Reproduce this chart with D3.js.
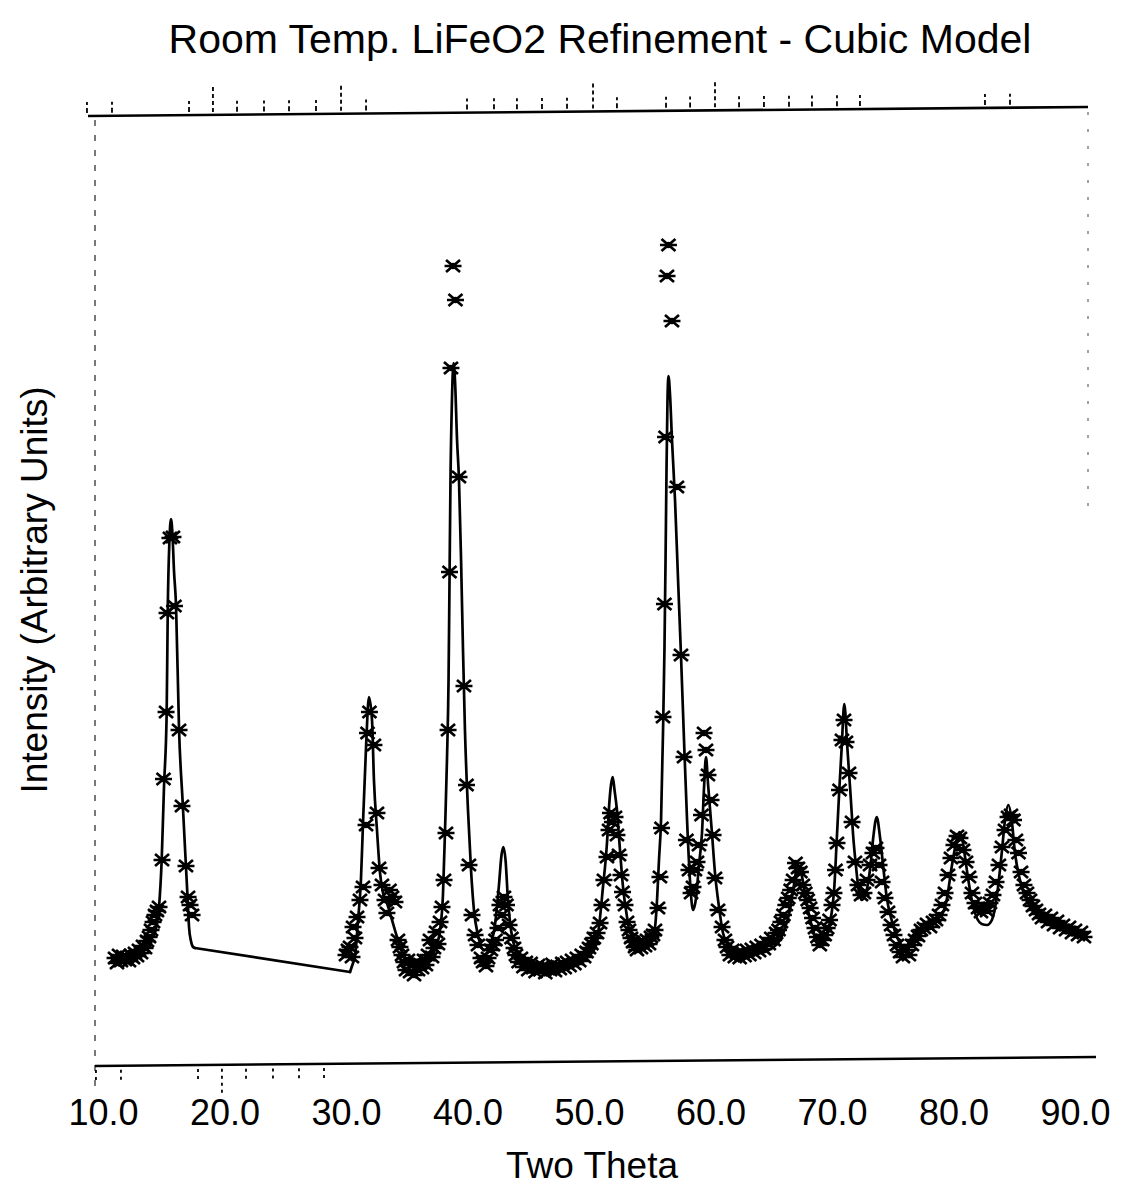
<!DOCTYPE html>
<html>
<head>
<meta charset="utf-8">
<script src="https://cdn.jsdelivr.net/npm/d3@7"></script>
<style>
  body { margin: 0; background: #fff; }
  svg { display: block; }
  text { font-family: "Liberation Sans", Arial, sans-serif; fill: #000; }
</style>
</head>
<body>
<svg id="chart" width="1141" height="1192"></svg>
<script>
// Observed diffraction pattern: [two theta (deg), counts]
const observed = [
  [10.99,990],[11.15,940],[11.32,1020],[11.48,960],[11.65,1010],[11.81,970],[11.98,1000],[12.14,960],
  [12.30,1020],[12.47,990],[12.63,1040],[12.80,1010],[12.96,1070],[13.13,1040],[13.29,1110],[13.46,1090],
  [13.62,1160],[13.79,1200],[13.95,1270],[14.12,1350],[14.28,1420],[14.44,1460],[14.61,1500],[14.86,1970],
  [14.98,2780],[15.19,3450],[15.27,4440],[15.51,5190],[15.76,5200],[15.88,4510],[16.26,3270],[16.50,2510],
  [16.83,1910],[17.00,1600],[17.16,1520],[17.33,1420],
  [30.00,1020],[30.16,1070],[30.33,1100],[30.49,1000],[30.58,1300],[30.74,1190],[30.91,1400],[31.15,1570],
  [31.40,1700],[31.65,2320],[31.77,3240],[31.93,3450],[32.30,3120],[32.55,2440],[32.72,1890],[32.96,1720],
  [33.21,1570],[33.37,1440],[33.58,1670],[33.79,1600],[34.03,1550],[34.28,1170],[34.44,1100],[34.61,1020],
  [34.77,950],[34.94,870],[35.10,970],[35.27,850],[35.43,920],[35.60,820],[35.76,950],[35.93,870],
  [36.09,930],[36.26,890],[36.42,970],[36.58,920],[36.75,1020],[36.91,1170],[37.08,1000],[37.24,1090],
  [37.41,1250],[37.57,1130],[37.74,1350],[37.90,1500],[38.07,1770],[38.23,2240],[38.40,3270],[38.52,4850],
  [38.64,6890],[38.81,7910],[39.01,7570],[39.30,5800],[39.71,3710],[39.92,2720],[40.12,1920],[40.37,1420],
  [40.62,1220],[40.86,1120],[41.11,990],[41.28,950],[41.52,910],[41.69,990],[41.93,1070],[42.10,1120],
  [42.30,1170],[42.51,1290],[42.67,1520],[42.84,1420],[43.00,1600],[43.21,1520],[43.42,1320],[43.62,1190],
  [43.83,1090],[43.99,1020],
  [44.2,950],[44.4,990],[44.6,900],[44.8,950],[45.0,870],[45.2,940],[45.4,890],[45.6,850],
  [45.8,920],[46.0,870],[46.2,910],[46.4,840],[46.6,900],[46.8,870],[47.0,930],[47.2,860],
  [47.4,910],[47.6,880],[47.8,940],[48.0,890],[48.2,950],[48.4,910],[48.6,970],[48.8,930],
  [49.0,990],[49.2,960],[49.4,1020],[49.6,1000],[49.8,1050],[50.0,1090],[50.2,1130],[50.4,1190],
  [50.66,1240],[50.91,1340],[51.07,1520],[51.23,1770],[51.48,2000],[51.65,2270],[51.77,2440],[51.93,2350],
  [52.14,2400],[52.30,2220],[52.47,2020],[52.63,1820],[52.76,1650],[52.96,1520],[53.13,1350],[53.29,1270],
  [53.46,1190],[53.62,1150],[53.79,1100],[53.95,1070],[54.12,1130],[54.28,1090],[54.44,1160],[54.61,1110],
  [54.77,1170],[54.94,1130],[55.10,1200],[55.27,1220],[55.43,1270],[55.68,1490],[55.84,1800],[55.97,2290],
  [56.09,3400],[56.21,4530],[56.30,6200],[56.42,7810],[56.54,8120],[56.83,7360],[57.24,5700],[57.57,4020],
  [57.82,3000],[58.02,2170],[58.23,1870],[58.40,1640],[58.56,1700],[58.72,1870],[58.89,1950],[59.05,2120],
  [59.26,2420],[59.47,3240],[59.63,3070],[59.79,2820],[60.04,2570],[60.21,2220],[60.37,1790],[60.62,1470],
  [60.95,1300],[61.19,1170],[61.36,1100],
  [61.6,1020],[61.8,1070],[62.0,1000],[62.2,1040],[62.4,990],[62.6,1050],[62.8,1010],[63.0,1070],
  [63.2,1020],[63.4,1080],[63.6,1040],[63.8,1100],[64.0,1060],[64.2,1120],[64.4,1080],[64.6,1150],
  [64.8,1130],[65.0,1190],[65.2,1170],[65.4,1240],[65.6,1270],[65.8,1350],[66.0,1420],[66.2,1520],
  [66.4,1590],[66.6,1670],[66.8,1770],[67.0,1940],[67.2,1890],[67.4,1850],[67.6,1720],[67.8,1640],
  [68.0,1570],[68.2,1490],[68.4,1390],[68.6,1290],[68.8,1200],[69.0,1120],[69.2,1170],[69.4,1220],
  [69.6,1290],[69.8,1370],[70.0,1520],
  [70.16,1640],[70.29,1870],[70.41,2140],[70.62,2670],[70.82,3170],[70.99,3370],[71.15,3150],[71.40,2840],
  [71.65,2350],[71.89,1950],[72.14,1720],[72.39,1620],[72.63,1640],[72.88,1770],[73.13,1920],[73.37,2040],
  [73.62,2090],[73.87,1920],[74.12,1750],[74.36,1590],[74.61,1450],[74.86,1320],[75.10,1220],[75.35,1120],
  [75.60,1050],[75.84,1000],[76.09,1070],[76.33,1020],[76.58,1120],[76.83,1170],[77.08,1210],[77.32,1270],
  [77.57,1290],[77.82,1330],[78.07,1300],[78.31,1350],[78.56,1370],[78.81,1420],[79.05,1520],[79.30,1640],
  [79.55,1820],[79.79,1990],[80.04,2120],[80.29,2210],[80.53,2190],[80.78,2070],[81.03,1950],[81.28,1800],
  [81.52,1640],[81.77,1540],[82.02,1490],[82.26,1450],[82.51,1500],[82.76,1460],[83.00,1540],[83.25,1620],
  [83.50,1750],[83.74,1920],[83.99,2100],[84.24,2270],[84.49,2400],[84.73,2420],[84.94,2370],[85.14,2170],
  [85.35,2040],[85.56,1850],[85.80,1720],[86.05,1640],[86.30,1570],[86.54,1510],[86.79,1470],[87.04,1430],
  [87.28,1390],[87.53,1420],[87.78,1350],[88.02,1390],[88.27,1320],[88.52,1360],[88.77,1290],[89.01,1320],
  [89.26,1270],[89.51,1300],[89.75,1240],[90.00,1270],[90.25,1220],[90.49,1250],[90.74,1200]
];

// Calculated (cubic model) profile: [two theta (deg), counts]
const calculated = [
  [10.99,990],[11.81,1000],[12.63,1030],[13.21,1070],[13.70,1130],[14.03,1190],[14.28,1250],[14.61,1500],
  [14.83,1970],[15.02,2700],[15.24,3440],[15.33,4470],[15.47,5170],[15.60,5380],[15.72,5220],[15.84,4870],
  [16.01,4520],[16.26,3270],[16.56,2540],[16.83,1900],[16.97,1570],[17.08,1300],[17.24,1160],[17.41,1100],
  [17.57,1090],
  [30.33,850],[30.58,940],[30.74,1000],[30.99,1370],[31.23,1770],[31.40,2340],[31.65,3100],[31.89,3600],
  [32.14,3370],[32.30,2770],[32.55,2270],[32.80,1840],[33.05,1640],[33.37,1540],[33.62,1440],[34.20,1200],
  [34.69,1020],[35.27,910],[35.93,910],[36.50,940],[37.08,1020],[37.49,1120],[37.74,1270],[37.98,1620],
  [38.15,2270],[38.31,2970],[38.44,3770],[38.52,4770],[38.60,5770],[38.72,6570],[38.85,6940],[38.97,6770],
  [39.14,6170],[39.30,5770],[39.47,4970],[39.63,4070],[39.79,3270],[40.04,2470],[40.29,1870],[40.53,1470],
  [40.86,1220],[41.36,1070],[41.85,1120],[42.26,1320],[42.59,1720],[42.80,2020],[42.96,2100],[43.13,1970],
  [43.33,1570],[43.58,1270],[43.91,1090],[44.49,970],[45.56,910],[46.79,890],[48.02,910],[49.26,950],
  [50.08,1020],[50.58,1120],[50.82,1300],[51.15,1700],[51.48,2140],[51.65,2500],[51.81,2720],[51.95,2800],
  [52.10,2670],[52.30,2470],[52.55,2070],[52.80,1700],[53.13,1400],[53.37,1240],[54.20,1170],[55.02,1200],
  [55.43,1300],[55.60,1570],[55.76,1970],[55.93,2370],[56.09,3240],[56.21,4070],[56.30,4970],[56.38,5870],
  [56.46,6570],[56.54,6810],[56.67,6620],[56.83,6170],[57.08,5570],[57.33,4770],[57.57,4020],[57.82,3170],
  [58.07,2370],[58.31,1770],[58.56,1470],[58.81,1590],[59.05,1920],[59.30,2240],[59.47,2700],[59.63,3000],
  [59.79,2740],[60.12,2240],[60.37,1840],[60.70,1500],[61.03,1240],[61.60,1100],[62.84,1050],[64.07,1040],
  [65.06,1090],[65.72,1170],[66.13,1290],[66.54,1470],[66.87,1720],[67.16,1910],[67.44,1850],[67.78,1640],
  [68.11,1420],[68.44,1270],[68.85,1120],[69.26,1120],[69.59,1240],[69.97,1440],[70.19,1700],[70.39,2170],
  [70.60,2670],[70.80,3100],[71.01,3530],[71.26,3100],[71.54,2600],[71.75,2200],[71.98,1900],[72.16,1700],
  [72.44,1570],[72.86,1670],[73.19,1940],[73.40,2200],[73.68,2400],[73.95,2200],[74.22,1900],[74.50,1600],
  [74.91,1370],[75.46,1170],[76.01,1100],[76.67,1220],[77.79,1340],[78.89,1400],[79.44,1570],[79.85,1900],
  [80.26,2170],[80.49,2250],[80.74,2170],[80.95,2000],[81.22,1770],[81.63,1500],[82.32,1330],[82.76,1320],
  [83.16,1370],[83.56,1600],[83.97,2040],[84.24,2370],[84.51,2520],[84.79,2370],[85.06,2040],[85.47,1770],
  [86.30,1500],[87.37,1370],[89.01,1290],[90.99,1240]
];

// Tick labels along two theta
const xTickValues = [10, 20, 30, 40, 50, 60, 70, 80, 90];

// Reflection markers above and below the frame (two theta), with the long ones flagged
const upperMarkers = [8.68, 10.74, 17.08, 19.05, 21.03, 23.25, 25.31, 27.53, 29.59, 31.65,
  39.96, 42.18, 44.07, 46.13, 48.19, 50.33, 52.30, 56.34, 58.32, 60.37, 62.35, 64.40,
  66.46, 68.35, 70.41, 72.30, 82.59, 84.65];
const upperLong = [19.05, 29.59, 50.33, 60.37];
const lowerMarkers = [9.42, 11.48, 17.82, 19.79, 21.77, 23.99, 26.13, 28.19];
const lowerLong = [19.79];

const svg = d3.select('#chart');

const x = d3.scaleLinear().domain([10, 90]).range([103, 1075]);
const y = d3.scaleLinear().domain([0, 9540]).range([1057, 103]);

// Frame: upper and lower rules are slightly tilted like the plotter output
const frameTop = { x1: 88, y1: 116, x2: 1088, y2: 107 };
const frameBottom = { x1: 95, y1: 1066, x2: 1096, y2: 1057 };
const yOnRule = (r, px) => r.y1 + (r.y2 - r.y1) * (px - r.x1) / (r.x2 - r.x1);

const frame = svg.append('g').attr('stroke', '#000').attr('fill', 'none');
frame.append('line').attr('x1', frameTop.x1).attr('y1', frameTop.y1)
  .attr('x2', frameTop.x2).attr('y2', frameTop.y2).attr('stroke-width', 2.6);
frame.append('line').attr('x1', frameBottom.x1).attr('y1', frameBottom.y1)
  .attr('x2', frameBottom.x2).attr('y2', frameBottom.y2).attr('stroke-width', 2.6);
// dashed side rules
frame.append('line').attr('x1', 95).attr('y1', 120).attr('x2', 95).attr('y2', 1095)
  .attr('stroke-width', 1.4).attr('stroke-dasharray', '6,9').attr('opacity', 0.75);
frame.append('line').attr('x1', 1088).attr('y1', 112).attr('x2', 1088).attr('y2', 520)
  .attr('stroke-width', 1.2).attr('stroke-dasharray', '3,14').attr('opacity', 0.6);

// Reflection markers
const markers = svg.append('g').attr('stroke', '#000').attr('stroke-width', 1.8);
markers.selectAll('line.up').data(upperMarkers).join('line')
  .attr('class', 'up')
  .attr('x1', d => x(d)).attr('x2', d => x(d))
  .attr('y1', d => yOnRule(frameTop, x(d)) - 3)
  .attr('y2', d => yOnRule(frameTop, x(d)) - (upperLong.includes(d) ? 30 : 14))
  .attr('stroke-dasharray', d => upperLong.includes(d) ? '4,3' : '5,3');
markers.selectAll('line.down').data(lowerMarkers).join('line')
  .attr('class', 'down')
  .attr('x1', d => x(d)).attr('x2', d => x(d))
  .attr('y1', d => yOnRule(frameBottom, x(d)) + 4)
  .attr('y2', d => yOnRule(frameBottom, x(d)) + (lowerLong.includes(d) ? 30 : 14))
  .attr('stroke-dasharray', '3,4');

// Calculated profile: smooth within each measured range, straight across the excluded region
const gapAt = calculated.findIndex((d, i) => i > 0 && d[0] - calculated[i - 1][0] > 5);
const pieces = [calculated.slice(0, gapAt), calculated.slice(gapAt)];
const smooth = d3.line().x(d => x(d[0])).y(d => y(d[1])).curve(d3.curveMonotoneX);
const straight = d3.line().x(d => x(d[0])).y(d => y(d[1]));
const calcG = svg.append('g').attr('fill', 'none').attr('stroke', '#000')
  .attr('stroke-width', 2.7).attr('stroke-linejoin', 'round').attr('stroke-linecap', 'round');
pieces.forEach(p => calcG.append('path').datum(p).attr('d', smooth));
calcG.append('path').datum([calculated[gapAt - 1], calculated[gapAt]]).attr('d', straight);

// Observed points drawn as asterisks with a heavy centre
const star = 'M-8.5,0H8.5M-7,-6L7,6M-7,6L7,-6';
const pts = svg.append('g').selectAll('g').data(observed).join('g')
  .attr('transform', d => `translate(${x(d[0])},${y(d[1])})`);
pts.append('path').attr('d', star)
  .attr('fill', 'none').attr('stroke', '#000').attr('stroke-width', 2.7);
pts.append('circle').attr('r', 3.2).attr('fill', '#000');

// Two theta tick labels
const xAxis = d3.axisBottom(x).tickValues(xTickValues)
  .tickFormat(d3.format('.1f')).tickSize(0).tickPadding(0);
const axisG = svg.append('g').attr('transform', 'translate(0,1099)').call(xAxis);
axisG.select('.domain').remove();
axisG.selectAll('text').style('font-family', '"Liberation Sans", Arial, sans-serif')
  .style('font-size', '36px').attr('fill', '#000');

// Titles
svg.append('text').attr('x', 600).attr('y', 53).attr('text-anchor', 'middle')
  .style('font-size', '41px').text('Room Temp. LiFeO2 Refinement - Cubic Model');
svg.append('text').attr('x', 592).attr('y', 1178).attr('text-anchor', 'middle')
  .style('font-size', '37px').text('Two Theta');
svg.append('text').attr('transform', 'translate(47,590) rotate(-90)').attr('text-anchor', 'middle')
  .style('font-size', '37px').text('Intensity (Arbitrary Units)');
</script>
</body>
</html>
